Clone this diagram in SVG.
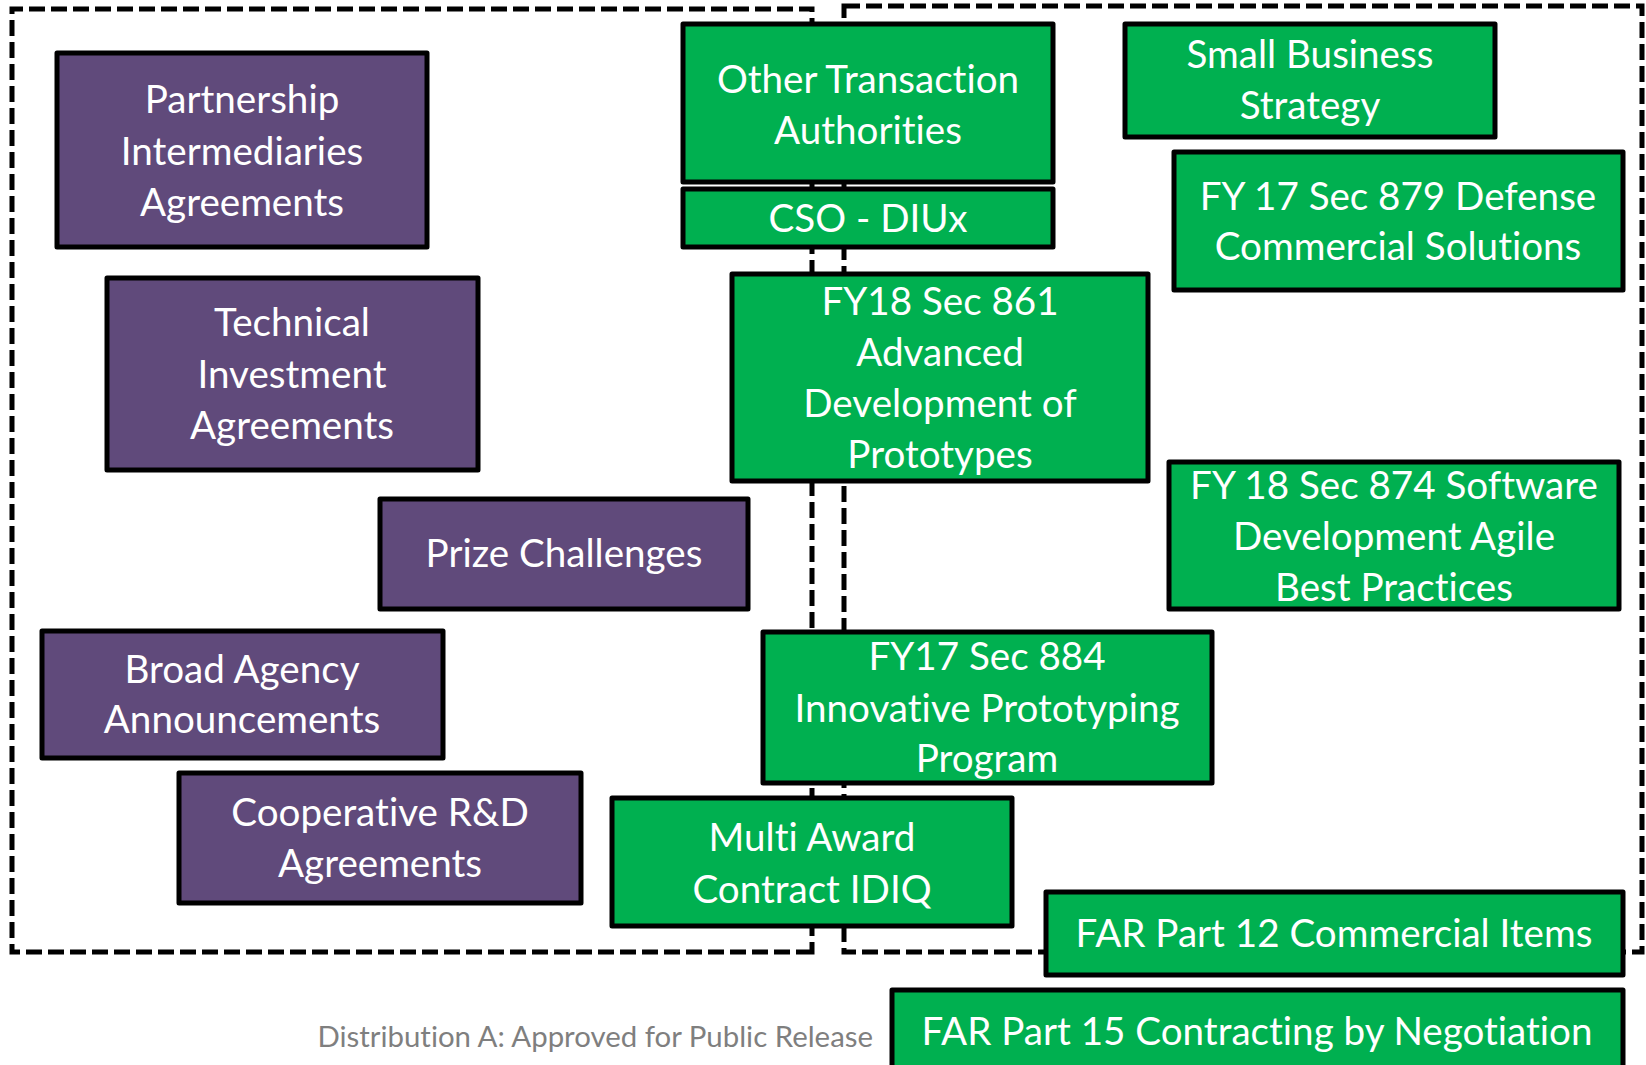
<svg xmlns="http://www.w3.org/2000/svg" width="1646" height="1065" viewBox="0 0 1646 1065">
<style>
.frame{fill:none;stroke:#000;stroke-width:5;stroke-dasharray:16 6}
.node rect{stroke:#000;stroke-width:5;stroke-linejoin:round}
.p rect{fill:#604a7b}
.g rect{fill:#00b050}
text{font-variant-ligatures:none;font-feature-settings:"liga" 0,"dlig" 0}
.node text{fill:#fff;font-family:Lato,"Open Sans",sans-serif;font-size:38.6px;text-anchor:middle}
.note{fill:#7f7f7f;font-family:Lato,"Open Sans",sans-serif;font-size:29.4px;text-anchor:end}
</style>
<rect width="1646" height="1065" fill="#fff"/>
<g id="connectors">
<path class="frame" d="M812 952 L12 952 L12 9 L812 9 Z"/>
<path class="frame" d="M844 6 L1642 6 L1642 952 L844 952 Z"/>
</g>
<g id="partnership" class="node p"><rect x="57" y="53" width="370" height="194"/><text x="242" y="113">Partnership</text><text x="242" y="164.5">Intermediaries</text><text x="242" y="216">Agreements</text></g>
<g id="technical" class="node p"><rect x="107" y="278" width="371" height="192"/><text x="292" y="336">Technical</text><text x="292" y="388">Investment</text><text x="292" y="439">Agreements</text></g>
<g id="prize" class="node p"><rect x="380" y="499" width="368" height="110"/><text x="564" y="567">Prize Challenges</text></g>
<g id="baa" class="node p"><rect x="42" y="631" width="401" height="127"/><text x="242" y="683">Broad Agency</text><text x="242" y="733">Announcements</text></g>
<g id="crada" class="node p"><rect x="179" y="773" width="402" height="130"/><text x="380" y="826">Cooperative R&amp;D</text><text x="380" y="877">Agreements</text></g>
<g id="ota" class="node g"><rect x="683" y="24" width="370" height="158"/><text x="868" y="93">Other Transaction</text><text x="868" y="144">Authorities</text></g>
<g id="cso" class="node g"><rect x="683" y="189" width="370" height="58"/><text x="868" y="232">CSO - DIUx</text></g>
<g id="sbs" class="node g"><rect x="1125" y="24" width="370" height="113"/><text x="1310" y="68">Small Business</text><text x="1310" y="119">Strategy</text></g>
<g id="sec879" class="node g"><rect x="1174" y="152" width="449" height="138"/><text x="1398" y="210">FY 17 Sec 879 Defense</text><text x="1398" y="260">Commercial Solutions</text></g>
<g id="sec861" class="node g"><rect x="732" y="274" width="416" height="207"/><text x="940" y="315">FY18 Sec 861</text><text x="940" y="366">Advanced</text><text x="940" y="417">Development of</text><text x="940" y="468">Prototypes</text></g>
<g id="sec874" class="node g"><rect x="1169" y="462" width="450" height="147"/><text x="1394" y="499">FY 18 Sec 874 Software</text><text x="1394" y="550">Development Agile</text><text x="1394" y="601">Best Practices</text></g>
<g id="sec884" class="node g"><rect x="763" y="632" width="449" height="151"/><text x="987" y="670">FY17 Sec 884</text><text x="987" y="722">Innovative Prototyping</text><text x="987" y="772">Program</text></g>
<g id="idiq" class="node g"><rect x="612" y="798" width="400" height="128"/><text x="812" y="851">Multi Award</text><text x="812" y="903">Contract IDIQ</text></g>
<g id="far12" class="node g"><rect x="1046" y="892" width="577" height="83"/><text x="1334" y="947">FAR Part 12 Commercial Items</text></g>
<g id="far15" class="node g"><rect x="892" y="990" width="731" height="90"/><text x="1257" y="1045">FAR Part 15 Contracting by Negotiation</text></g>
<text class="note" x="873" y="1047">Distribution A: Approved for Public Release</text>
</svg>
